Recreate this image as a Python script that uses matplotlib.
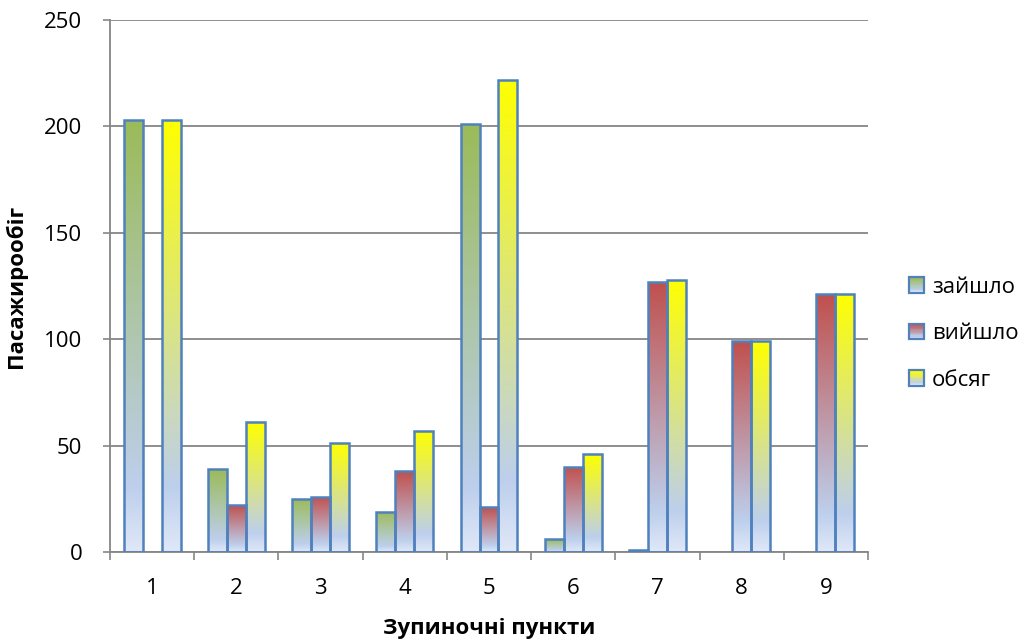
import numpy as np
import matplotlib
matplotlib.use("Agg")
import matplotlib.pyplot as plt
from matplotlib.colors import LinearSegmentedColormap
from matplotlib.patches import Rectangle
from matplotlib.legend_handler import HandlerBase

plt.rcParams['font.family'] = ['Open Sans', 'DejaVu Sans']

stops = ["1", "2", "3", "4", "5", "6", "7", "8", "9"]
entered = [203, 39, 25, 19, 201, 6, 1, 0, 0]
left_bus = [0, 22, 26, 38, 21, 40, 127, 99, 121]
volume = [203, 61, 51, 57, 222, 46, 128, 99, 121]
series_names = ["зайшло", "вийшло", "обсяг"]
top_colors = ["#9BBB59", "#C0504D", "#FFFF00"]

fig = plt.figure(figsize=(10.3, 6.44), dpi=100)
ax = fig.add_axes([0.1068, 0.1429, 0.7359, 0.8261])

x = np.arange(1, len(stops) + 1)
w = 0.225
edge = "#4F81BD"


def grad_cmap(top):
    # bottom -> top
    return LinearSegmentedColormap.from_list(
        "g", [(0.0, "#E0E8F8"), (0.15, "#BDCFEC"), (1.0, top)])


cmaps = [grad_cmap(c) for c in top_colors]

for k, (vals, cmap) in enumerate(zip([entered, left_bus, volume], cmaps)):
    bars = ax.bar(x + (k - 1) * w, vals, width=w, facecolor="none",
                  edgecolor=[edge if v > 0 else "none" for v in vals],
                  linewidth=1.8, zorder=3)
    grad = np.linspace(1, 0, 256).reshape(-1, 1)
    for b, v in zip(bars, vals):
        if v <= 0:
            continue
        bx, by = b.get_x(), b.get_y()
        im = ax.imshow(grad, cmap=cmap, aspect="auto", zorder=2,
                       extent=[bx, bx + b.get_width(), by, by + b.get_height()],
                       interpolation="bilinear")
        im.set_clip_path(b)

ax.set_xlim(0.5, len(stops) + 0.5)
ax.set_ylim(0, 250)
ax.set_yticks(np.arange(0, 251, 50))
ax.set_xticks(x)
ax.set_xticklabels(stops)
ax.set_xticks(np.arange(0.5, len(stops) + 1, 1), minor=True)
ax.tick_params(axis="x", which="major", length=0, pad=19, labelsize=16)
ax.tick_params(axis="x", which="minor", length=6, width=1.2, color="#868686")
ax.tick_params(axis="y", length=5, width=1.2, color="#868686", pad=15, labelsize=16)

ax.grid(axis="y", color="#868686", linewidth=1.3, zorder=0)
ax.set_axisbelow(True)
for s in ["top", "right"]:
    ax.spines[s].set_visible(False)
for s in ["left", "bottom"]:
    ax.spines[s].set_color("#868686")
    ax.spines[s].set_linewidth(1.3)

ax.set_xlabel("Зупиночні пункти", fontsize=16, fontweight="bold")
ax.set_ylabel("Пасажирообіг", fontsize=16, fontweight="bold")
ax.xaxis.set_label_coords(0.5, -0.125)
ax.yaxis.set_label_coords(-0.11, 0.5)


class GradHandler(HandlerBase):
    def __init__(self, cmap):
        super().__init__()
        self.cmap = cmap

    def create_artists(self, legend, orig_handle, xdescent, ydescent,
                       width, height, fontsize, trans):
        n = 12
        arts = []
        for i in range(n):
            arts.append(Rectangle((-xdescent, -ydescent + height * i / n),
                                  width, height / n + 0.05,
                                  facecolor=self.cmap(i / (n - 1)), edgecolor="none",
                                  transform=trans))
        arts.append(Rectangle((-xdescent, -ydescent), width, height,
                              facecolor="none", edgecolor=edge, linewidth=1.6,
                              transform=trans))
        return arts


handles = [Rectangle((0, 0), 1, 1) for _ in cmaps]
ax.legend(handles, series_names, loc="center left", bbox_to_anchor=(1.028, 0.41),
          frameon=False, fontsize=16, handlelength=0.68, handleheight=0.68,
          handletextpad=0.35, labelspacing=1.15,
          handler_map={h: GradHandler(cm) for h, cm in zip(handles, cmaps)})

fig.savefig("out.png", dpi=100)
